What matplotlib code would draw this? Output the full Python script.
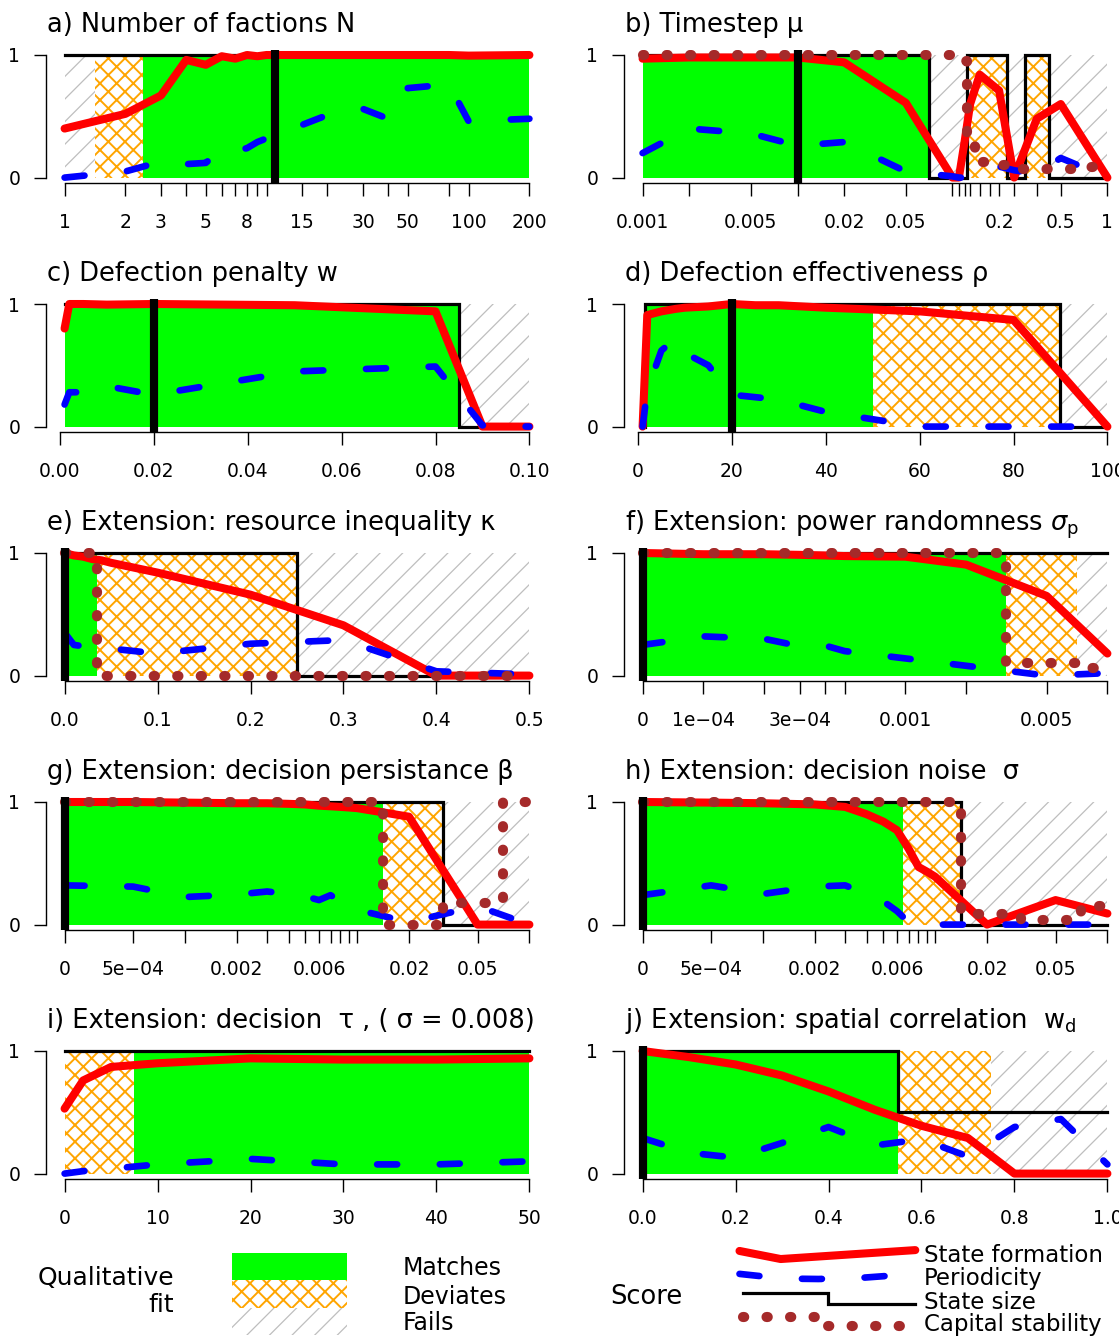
import numpy as np
import matplotlib
matplotlib.use("Agg")
import matplotlib.pyplot as plt
from matplotlib.patches import Rectangle
from matplotlib.collections import LineCollection
from matplotlib.transforms import IdentityTransform
from matplotlib.ticker import NullLocator

W, H = 1119, 1338

# fit codes: 0 = matches, 1 = deviates, 2 = fails, -1 = nothing drawn
# ---------- a) Number of factions N ----------
a_x = [1, 2, 3, 4, 5, 6, 7, 8, 9, 10, 15, 20, 30, 40, 50, 80, 100, 200]
a_state = [0.40, 0.52, 0.67, 0.96, 0.92, 0.99, 0.97, 1.0, 0.99, 1.0, 1.0, 1.0, 1.0, 1.0, 1.0, 1.0, 0.995, 1.0]
a_period = [0.0, 0.05, 0.13, 0.11, 0.12, 0.23, 0.22, 0.24, 0.29, 0.32, 0.43, 0.51, 0.56, 0.48, 0.73, 0.76, 0.46, 0.48]
a_size = [1, 1, 1, 1, 1, 1, 1, 1, 1, 1, 1, 1, 1, 1, 1, 1, 1, 1]
a_fit = [2, 1, 0, 0, 0, 0, 0, 0, 0, 0, 0, 0, 0, 0, 0, 0, 0, 0]
a_labels = {1: "1", 2: "2", 3: "3", 5: "5", 8: "8", 15: "15", 30: "30", 50: "50", 100: "100", 200: "200"}

# ---------- b) Timestep mu ----------
b_x = [0.001, 0.002, 0.005, 0.01, 0.02, 0.05, 0.1, 0.11, 0.12, 0.13, 0.15, 0.175, 0.2, 0.25, 0.35, 0.5, 1.0]
b_state = [0.97, 0.98, 0.98, 0.98, 0.94, 0.61, 0.0, 0.0, 0.3, 0.6, 0.84, 0.77, 0.71, 0.0, 0.48, 0.6, 0.0]
b_period = [0.2, 0.4, 0.36, 0.26, 0.29, 0.05, 0.01, 0.0, 0.0, 0.0, 0.0, 0.05, 0.09, 0.06, 0.03, 0.16, 0.0]
b_size = [1, 1, 1, 1, 1, 1, 0, 0, 0, 1, 1, 1, 1, 0, 1, 0, 0]
b_capital = [1, 1, 1, 1, 1, 1, 1, 1, 0.95, 0.33, 0.13, 0.13, 0.1, 0.07, 0.07, 0.07, 0.09]
b_fit = [0, 0, 0, 0, 0, 0, 2, 2, 2, 1, 1, 1, 1, 2, 1, 2, 2]
b_labels = {0.001: "0.001", 0.005: "0.005", 0.02: "0.02", 0.05: "0.05", 0.2: "0.2", 0.5: "0.5", 1.0: "1"}

# ---------- c) Defection penalty w ----------
c_x = [0.001, 0.002, 0.005, 0.01, 0.02, 0.05, 0.08, 0.09, 0.1]
c_state = [0.8, 1.0, 1.0, 0.995, 1.0, 0.99, 0.94, 0.0, 0.0]
c_period = [0.18, 0.28, 0.28, 0.33, 0.26, 0.45, 0.49, 0.01, 0.0]
c_size = [1, 1, 1, 1, 1, 1, 1, 0, 0]
c_fit = [0, 0, 0, 0, 0, 0, 0, 2, 2]
c_ticks = [0.0, 0.02, 0.04, 0.06, 0.08, 0.10]
c_ticklabels = ["0.00", "0.02", "0.04", "0.06", "0.08", "0.10"]

# ---------- d) Defection effectiveness rho ----------
d_x = [1, 2, 5, 8, 10, 15, 20, 25, 30, 40, 60, 80, 100]
d_state = [0.0, 0.91, 0.94, 0.96, 0.97, 0.98, 1.0, 0.99, 0.99, 0.97, 0.94, 0.87, 0.0]
d_period = [0.0, 0.3, 0.62, 0.72, 0.6, 0.5, 0.26, 0.24, 0.22, 0.12, 0.0, 0.0, 0.0]
d_size = [0, 1, 1, 1, 1, 1, 1, 1, 1, 1, 1, 1, 0]
d_fit = [-1, 0, 0, 0, 0, 0, 0, 0, 0, 0, 1, 1, 2]
d_ticks = [0, 20, 40, 60, 80, 100]
d_ticklabels = ["0", "20", "40", "60", "80", "100"]

# ---------- e) resource inequality kappa ----------
e_x = [0, 0.01, 0.02, 0.03, 0.04, 0.05, 0.1, 0.2, 0.3, 0.4, 0.5]
e_state = [1.0, 0.98, 0.97, 0.95, 0.94, 0.92, 0.84, 0.66, 0.41, 0.0, 0.0]
e_period = [0.35, 0.25, 0.24, 0.235, 0.23, 0.22, 0.18, 0.26, 0.29, 0.035, 0.01]
e_size = [1, 1, 1, 1, 1, 1, 1, 1, 0, 0, 0]
e_capital = [1, 1, 1, 1, 0, 0, 0, 0, 0, 0, 0]
e_fit = [0, 0, 0, 0, 1, 1, 1, 1, 2, 2, 2]
e_ticks = [0.0, 0.1, 0.2, 0.3, 0.4, 0.5]
e_ticklabels = ["0.0", "0.1", "0.2", "0.3", "0.4", "0.5"]

# ---------- f) power randomness sigma_p ----------
f_x = [0, 1e-4, 2e-4, 3e-4, 4e-4, 5e-4, 1e-3, 2e-3, 5e-3, 1e-2]
f_state = [1.0, 0.99, 0.99, 0.985, 0.98, 0.975, 0.97, 0.905, 0.65, 0.18]
f_period = [0.25, 0.32, 0.3, 0.24, 0.245, 0.2, 0.14, 0.08, 0.0, 0.02]
f_size = [1, 1, 1, 1, 1, 1, 1, 1, 1, 1]
f_capital = [1, 1, 1, 1, 1, 1, 1, 1, 0.1, 0.06]
f_fit = [0, 0, 0, 0, 0, 0, 0, 0, 1, 2]
f_labels = {0: "0", 1e-4: "1e\u221204", 3e-4: "3e\u221204", 1e-3: "0.001", 5e-3: "0.005"}

# ---------- g) decision persistance beta ----------
g_x = [0, 5e-4, 1e-3, 2e-3, 3e-3, 4e-3, 5e-3, 6e-3, 7e-3, 8e-3, 9e-3, 0.01, 0.02, 0.05, 0.1]
g_state = [1.0, 1.0, 0.995, 0.99, 0.99, 0.985, 0.98, 0.97, 0.965, 0.96, 0.955, 0.95, 0.88, 0.0, 0.0]
g_period = [0.32, 0.31, 0.225, 0.245, 0.27, 0.25, 0.23, 0.2, 0.24, 0.19, 0.16, 0.12, 0.02, 0.15, 0.0]
g_size = [1, 1, 1, 1, 1, 1, 1, 1, 1, 1, 1, 1, 1, 0, 0]
g_capital = [1, 1, 1, 1, 1, 1, 1, 1, 1, 1, 1, 1, 0.0, 0.18, 1.0]
g_fit = [0, 0, 0, 0, 0, 0, 0, 0, 0, 0, 0, 0, 1, 2, 2]
g_labels = {0: "0", 5e-4: "5e\u221204", 2e-3: "0.002", 6e-3: "0.006", 0.02: "0.02", 0.05: "0.05"}

# ---------- h) decision noise sigma ----------
h_x = [0, 5e-4, 1e-3, 2e-3, 3e-3, 4e-3, 5e-3, 6e-3, 7e-3, 8e-3, 9e-3, 0.01, 0.02, 0.05, 0.1]
h_state = [1.0, 0.995, 0.99, 0.98, 0.96, 0.9, 0.84, 0.77, 0.62, 0.47, 0.43, 0.39, 0.0, 0.2, 0.09]
h_period = [0.24, 0.32, 0.25, 0.31, 0.32, 0.25, 0.19, 0.11, 0.02, 0.0, 0.0, 0.0, 0.0, 0.0, 0.0]
h_size = [1, 1, 1, 1, 1, 1, 1, 1, 1, 1, 1, 1, 0, 0, 0]
h_capital = [1, 1, 1, 1, 1, 1, 1, 1, 1, 1, 1, 1, 0.09, 0.04, 0.15]
h_fit = [0, 0, 0, 0, 0, 0, 0, 0, 1, 1, 1, 1, 2, 2, 2]
h_labels = g_labels

# ---------- i) decision tau ----------
i_x = [0, 2, 5, 10, 20, 30, 40, 50]
i_state = [0.53, 0.76, 0.87, 0.9, 0.94, 0.93, 0.93, 0.94]
i_period = [0.0, 0.02, 0.04, 0.075, 0.12, 0.075, 0.075, 0.1]
i_size = [1, 1, 1, 1, 1, 1, 1, 1]
i_fit = [1, 1, 1, 0, 0, 0, 0, 0]
i_ticks = [0, 10, 20, 30, 40, 50]
i_ticklabels = ["0", "10", "20", "30", "40", "50"]

# ---------- j) spatial correlation w_d ----------
j_x = [0.0, 0.1, 0.2, 0.3, 0.4, 0.5, 0.6, 0.7, 0.8, 0.9, 1.0]
j_state = [1.0, 0.95, 0.89, 0.8, 0.67, 0.52, 0.39, 0.29, 0.0, 0.0, 0.0]
j_period = [0.29, 0.17, 0.13, 0.25, 0.38, 0.23, 0.28, 0.14, 0.38, 0.445, 0.075]
j_size = [1, 1, 1, 1, 1, 1, 0.5, 0.5, 0.5, 0.5, 0.5]
j_fit = [0, 0, 0, 0, 0, 0, 1, 1, 2, 2, 2]
j_ticks = [0.0, 0.2, 0.4, 0.6, 0.8, 1.0]
j_ticklabels = ["0.0", "0.2", "0.4", "0.6", "0.8", "1.0"]

titles = [
    "a) Number of factions N",
    "b) Timestep \u03bc",
    "c) Defection penalty w",
    "d) Defection effectiveness \u03c1",
    "e) Extension: resource inequality \u03ba",
    r"f) Extension: power randomness $\sigma_\mathrm{p}$",
    "g) Extension: decision persistance \u03b2",
    "h) Extension: decision noise  \u03c3",
    "i) Extension: decision  \u03c4 , ( \u03c3 = 0.008)",
    r"j) Extension: spatial correlation  $\mathrm{w}_\mathrm{d}$",
]
defaults = [11, 0.01, 0.02, 20, 0, 0, 0, 0, None, 0]

# legend line samples (shape of the little key lines)
key_state_x = [0.0, 0.234, 1.0]
key_state_y = [0.93, 0.835, 0.94]
key_period_x = [0.0, 0.25, 0.45, 0.7, 1.0]
key_period_y = [0.66, 0.605, 0.6, 0.615, 0.66]
key_size_x = [0.02, 0.506, 0.506, 1.0]
key_size_y = [0.432, 0.432, 0.306, 0.306]
key_capital_x = [0.02, 0.48, 0.48, 0.92]
key_capital_y = [0.156, 0.156, 0.05, 0.05]

GREEN = "#00FF00"
ORANGE = "#FFA500"
GRAY = "#BEBEBE"
BROWN = "#A52A2A"

plt.rcParams["font.family"] = ["DejaVu Sans"]
plt.rcParams["hatch.linewidth"] = 1.4

STATE_KW = dict(color="#FF0000", lw=5.8, solid_capstyle="round", solid_joinstyle="round", zorder=3)
PERIOD_KW = dict(color="#0000FF", lw=4.8, dashes=(3.0, 6.4), dash_capstyle="round",
                 dash_joinstyle="round", zorder=4)
SIZE_KW = dict(color="black", lw=2.3, solid_joinstyle="miter", zorder=2)
CAPITAL_KW = dict(color=BROWN, lw=7.3, dashes=(0.12, 2.2), dash_capstyle="round", zorder=5)


def gray_hatch(ax, patch, spacing=22.6):
    bb = ax.get_window_extent()
    h = bb.height
    starts = np.arange(bb.x0 - h - spacing, bb.x1 + spacing, spacing)
    segs = [[(s, bb.y0), (s + h, bb.y1)] for s in starts]
    lc = LineCollection(segs, colors=GRAY, linewidths=0.9, transform=IdentityTransform(), zorder=1)
    ax.add_collection(lc, autolim=False)
    lc.set_clip_path(patch)


def add_region(ax, left, width, bottom, height, code):
    if code == 0:
        r = Rectangle((left, bottom), width, height, facecolor=GREEN, edgecolor="none", lw=0, zorder=1)
        ax.add_patch(r)
    elif code == 1:
        r = Rectangle((left, bottom), width, height, facecolor="white", edgecolor=ORANGE,
                      hatch="xx", lw=0, zorder=1)
        ax.add_patch(r)
    else:
        r = Rectangle((left, bottom), width, height, facecolor="white", edgecolor="none", lw=0, zorder=1)
        ax.add_patch(r)
        gray_hatch(ax, r)


def make_scale(kind, zero=None):
    if kind == "lin":
        def fwd(v):
            return np.asarray(v, float)
        return fwd, fwd

    def fwd(v):
        v = np.asarray(v, float)
        v = np.where(v > 0, v, zero if zero is not None else 1e-12)
        return np.log10(v)

    def inv(u):
        return 10.0 ** np.asarray(u, float)
    return fwd, inv


def step_xy(u, y, inv):
    xs, ys = [u[0]], [y[0]]
    for k in range(len(u) - 1):
        m = (u[k] + u[k + 1]) / 2
        xs += [m, m]
        ys += [y[k], y[k + 1]]
    xs.append(u[-1])
    ys.append(y[-1])
    return inv(np.array(xs)), np.array(ys)


def draw_panel(ax, p):
    fwd, inv = make_scale(p["scale"], p.get("zero"))
    if p["scale"] != "lin":
        ax.set_xscale("function", functions=(fwd, inv))
    x = np.asarray(p["x"], float)
    u = fwd(x)
    m = 0.04 * (u[-1] - u[0])
    xlim = (float(inv(u[0] - m)), float(inv(u[-1] + m)))
    ax.set_xlim(*xlim)
    ax.set_ylim(-0.04, 1.04)

    mids = (u[:-1] + u[1:]) / 2
    edges = np.concatenate([[u[0]], mids, [u[-1]]])
    for k, code in enumerate(p["fit"]):
        if code < 0:
            continue
        l, r = float(inv(edges[k])), float(inv(edges[k + 1]))
        add_region(ax, l, r - l, 0, 1, code)

    sx, sy = step_xy(u, p["size"], inv)
    ax.plot(sx, sy, **SIZE_KW)
    ax.plot(x, p["state"], **STATE_KW)
    ax.plot(x, p["period"], **PERIOD_KW)
    if p.get("capital") is not None:
        cx, cy = step_xy(u, p["capital"], inv)
        ax.plot(cx, cy, **CAPITAL_KW)
    if p["default"] is not None:
        ax.axvline(p["default"], color="black", lw=5.9, solid_capstyle="butt", zorder=6)

    if "labels" in p:
        ticks = list(x)
        labs = [p["labels"].get(v, "") for v in p["x"]]
    else:
        ticks = p["ticks"]
        labs = p["ticklabels"]
    ax.set_xticks(ticks, labs)
    ax.xaxis.set_minor_locator(NullLocator())
    ax.set_yticks([0, 1], ["0", "1"])
    ax.tick_params(axis="both", direction="out", length=9, width=1.0, labelsize=13.5)
    ax.tick_params(axis="x", pad=13)
    ax.tick_params(axis="y", pad=9.5)
    for s in ("top", "right"):
        ax.spines[s].set_visible(False)
    for s in ("left", "bottom"):
        ax.spines[s].set_linewidth(1.0)
    ax.spines["left"].set_bounds(0, 1)
    ax.spines["bottom"].set_bounds(ticks[0], ticks[-1])
    ax.set_xlim(*xlim)
    ax.annotate(p["title"], xy=(0, 1), xycoords="axes fraction", xytext=(1, 18),
                textcoords="offset pixels", fontsize=18.5, ha="left", va="baseline",
                annotation_clip=False)


panels = [
    dict(x=a_x, state=a_state, period=a_period, size=a_size, fit=a_fit, scale="log", labels=a_labels),
    dict(x=b_x, state=b_state, period=b_period, size=b_size, capital=b_capital, fit=b_fit,
         scale="log", labels=b_labels),
    dict(x=c_x, state=c_state, period=c_period, size=c_size, fit=c_fit, scale="lin",
         ticks=c_ticks, ticklabels=c_ticklabels),
    dict(x=d_x, state=d_state, period=d_period, size=d_size, fit=d_fit, scale="lin",
         ticks=d_ticks, ticklabels=d_ticklabels),
    dict(x=e_x, state=e_state, period=e_period, size=e_size, capital=e_capital, fit=e_fit,
         scale="lin", ticks=e_ticks, ticklabels=e_ticklabels),
    dict(x=f_x, state=f_state, period=f_period, size=f_size, capital=f_capital, fit=f_fit,
         scale="log", zero=5e-5, labels=f_labels),
    dict(x=g_x, state=g_state, period=g_period, size=g_size, capital=g_capital, fit=g_fit,
         scale="log", zero=2e-4, labels=g_labels),
    dict(x=h_x, state=h_state, period=h_period, size=h_size, capital=h_capital, fit=h_fit,
         scale="log", zero=2e-4, labels=h_labels),
    dict(x=i_x, state=i_state, period=i_period, size=i_size, fit=i_fit, scale="lin",
         ticks=i_ticks, ticklabels=i_ticklabels),
    dict(x=j_x, state=j_state, period=j_period, size=j_size, fit=j_fit, scale="lin",
         ticks=j_ticks, ticklabels=j_ticklabels),
]

fig = plt.figure(figsize=(W / 100, H / 100), dpi=100)

# overlay in pixel coordinates for the bottom key
leg = fig.add_axes([0, 0, 1, 1])
leg.set_xlim(0, W)
leg.set_ylim(H, 0)
leg.axis("off")

span = 122.6
for n, p in enumerate(panels):
    p["title"] = titles[n]
    p["default"] = defaults[n]
    row, col = n // 2, n % 2
    left = 46.0 if col == 0 else 624.0
    y1 = 55.0 + 249.0 * row
    top = y1 - 0.04 * span
    bot = y1 + span + 0.04 * span
    ax = fig.add_axes([left / W, 1 - bot / H, 502.0 / W, (bot - top) / H])
    ax.patch.set_alpha(0)
    draw_panel(ax, p)

# ----- left key: qualitative fit -----
leg.text(174, 1278, "Qualitative", ha="right", va="center", fontsize=18)
leg.text(174, 1305, "fit", ha="right", va="center", fontsize=18)
add_region(leg, 231.5, 115, 1253.3, 26.7, 0)
add_region(leg, 231.5, 115, 1280.0, 28.3, 1)
add_region(leg, 231.5, 115, 1308.3, 27.0, 2)
for lab, yy in zip(["Matches", "Deviates", "Fails"], [1268, 1296.5, 1323]):
    leg.text(403, yy, lab, ha="left", va="center", fontsize=17)

# ----- right key: score -----
leg.text(646, 1297, "Score", ha="center", va="center", fontsize=18.5)
for lab, yy in zip(["State formation", "Periodicity", "State size", "Capital stability"],
                   [1256, 1278, 1302.5, 1325]):
    leg.text(924, yy, lab, ha="left", va="center", fontsize=16.5)

key = fig.add_axes([739.5 / W, 1 - 1330 / H, 175.8 / W, 85 / H])
key.set_xlim(0, 1)
key.set_ylim(0, 1)
key.axis("off")
key.plot(key_state_x, key_state_y, clip_on=False, **STATE_KW)
key.plot(key_period_x, key_period_y, clip_on=False, **PERIOD_KW)
key.plot(key_size_x, key_size_y, clip_on=False, **SIZE_KW)
key.plot(key_capital_x, key_capital_y, clip_on=False, **CAPITAL_KW)

fig.savefig("out.png", dpi=100)
